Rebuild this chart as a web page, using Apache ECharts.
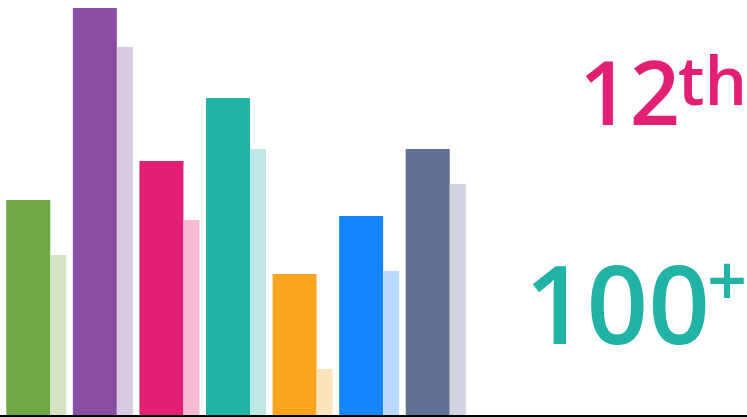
<!DOCTYPE html>
<html>
<head>
<meta charset="utf-8">
<script src="https://cdn.jsdelivr.net/npm/echarts@6/dist/echarts.min.js"></script>
<style>
html,body{margin:0;padding:0;background:#fff;}
#c{width:747px;height:417px;}
</style>
</head>
<body>
<div id="c"></div>
<script>
// Data
const categories = ['G1', 'G2', 'G3', 'G4', 'G5', 'G6', 'G7'];
const primaryValues = [216, 408, 255, 318, 142, 200, 267];
const secondaryValues = [161, 369, 196, 267, 47, 145, 232];
const headlineText = '12';
const headlineSup = 'th';
const countText = '100';
const countSup = '+';

// Styles
const darkColors = ['#70A844', '#884EA2', '#E21F73', '#21B3A6', '#F9A51F', '#1785FF', '#637095'];
const lightColors = ['#D5E5C4', '#D9CAE3', '#F7BAD3', '#BFE8E4', '#FDE4BC', '#B9D9FE', '#D0D4E0'];
const FONT = '"Open Sans", "Noto Sans", sans-serif';

const chart = echarts.init(document.getElementById('c'), null, {renderer: 'canvas'});
chart.setOption({
  animation: false,
  backgroundColor: '#ffffff',
  grid: {left: 3, right: 278, top: 0, bottom: 1, containLabel: false},
  xAxis: {
    type: 'category',
    data: categories,
    axisLine: {show: false},
    axisTick: {show: false},
    axisLabel: {show: false},
    splitLine: {show: false}
  },
  yAxis: {
    type: 'value',
    min: 0,
    max: 416,
    show: false
  },
  series: [
    {
      type: 'bar',
      barWidth: 44,
      barGap: '0%',
      data: primaryValues.map((v, i) => ({value: v, itemStyle: {color: darkColors[i]}}))
    },
    {
      type: 'bar',
      barWidth: 16,
      barGap: '0%',
      data: secondaryValues.map((v, i) => ({value: v, itemStyle: {color: lightColors[i]}}))
    }
  ],
  graphic: [
    {
      type: 'line', z: 100,
      shape: {x1: 0, y1: 416, x2: 747, y2: 416},
      style: {stroke: '#000', lineWidth: 2}
    },
    {
      type: 'text', x: 680, y: 144,
      style: {text: headlineText, fill: '#E21F73', font: '600 88px ' + FONT, align: 'right', verticalAlign: 'bottom'}
    },
    {
      type: 'text', x: 747, y: 119,
      style: {text: headlineSup, fill: '#E21F73', font: '600 67px ' + FONT, align: 'right', verticalAlign: 'bottom'}
    },
    {
      type: 'text', x: 710, y: 367,
      style: {text: countText, fill: '#21B3A6', font: '600 108px ' + FONT, align: 'right', verticalAlign: 'bottom'}
    },
    {
      type: 'text', x: 747, y: 321,
      style: {text: countSup, fill: '#21B3A6', font: '600 70px ' + FONT, align: 'right', verticalAlign: 'bottom'}
    }
  ]
});
</script>
</body>
</html>
